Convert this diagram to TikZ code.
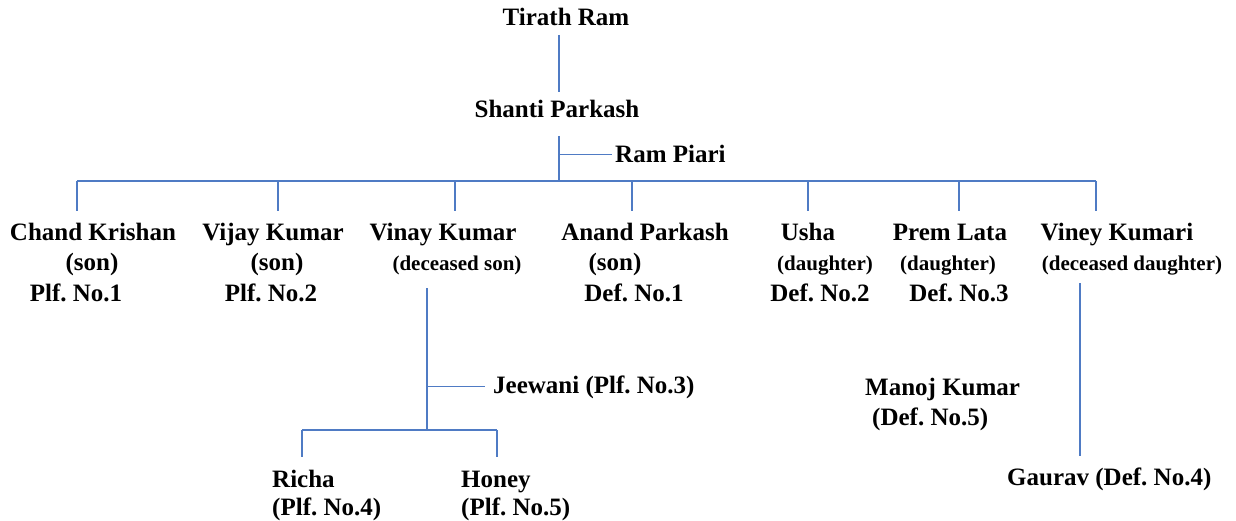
\documentclass[tikz,border=0pt]{standalone}
\usepackage{fontspec}
\setmainfont{Liberation Serif}[BoldFont={Liberation Serif Bold}]
\frenchspacing
\definecolor{linkblue}{HTML}{4F7BC4}
\tikzset{
  person/.style={font=\bfseries\fontsize{25}{30}\selectfont, inner sep=0pt, anchor=base},
  remark/.style={font=\bfseries\fontsize{21}{25}\selectfont, inner sep=0pt, anchor=base},
  link/.style={draw=linkblue, line width=1.2pt},
}
\begin{document}
\begin{tikzpicture}[x=1pt, y=-1pt]
		\useasboundingbox (0,0) rectangle (1236,521);
		% ancestors
		\node[person] (tirath) at (566,26) {Tirath Ram};
		\node[person] (shanti) at (557,118) {Shanti Parkash};
		\node[person, anchor=base west] (rampiari) at (615,163) {Ram Piari};
		% children of Shanti Parkash
		\foreach \id/\x/\who in {chand/93/Chand Krishan, vijay/273/Vijay Kumar, vinay/443/Vinay Kumar, anand/645/Anand Parkash, usha/808/Usha, prem/950/Prem Lata, viney/1117/Viney Kumari}
		{
			\node[person] (\id) at (\x,241) {\who};
		}
		\node[person] (chands) at (92,270) {(son)};
		\node[person] (chandn) at (76,301) {Plf. No.1};
		\node[person] (vijays) at (277,270) {(son)};
		\node[person] (vijayn) at (271,301) {Plf. No.2};
		\node[remark] (vinays) at (457,270) {(deceased son)};
		\node[person] (anands) at (615,270) {(son)};
		\node[person] (anandn) at (634,301) {Def. No.1};
		\node[remark] (ushas) at (825,270) {(daughter)};
		\node[person] (ushan) at (820,301) {Def. No.2};
		\node[remark] (prems) at (948,270) {(daughter)};
		\node[person] (premn) at (959,301) {Def. No.3};
		\node[remark] (vineys) at (1132,270) {(deceased daughter)};
		% grandchildren
		\node[person, anchor=base west] (jeewani) at (493,393) {Jeewani (Plf. No.3)};
		\node[person, anchor=base west] (richa) at (272,487) {Richa};
		\node[person, anchor=base west] (richan) at (272,515) {(Plf. No.4)};
		\node[person, anchor=base west] (honey) at (461,487) {Honey};
		\node[person, anchor=base west] (honeyn) at (461,515) {(Plf. No.5)};
		\node[person, anchor=base west] (manoj) at (865,395) {Manoj Kumar};
		\node[person, anchor=base west] (manojn) at (872,425) {(Def. No.5)};
		\node[person, anchor=base west] (gaurav) at (1007,485) {Gaurav (Def. No.4)};
		% junctions
		\coordinate (sp1) at (559,35);
		\coordinate (sp2) at (559,92);
		\coordinate (sp3) at (559,136);
		\coordinate (bar) at (559,181);
		\coordinate (barl) at (77,181);
		\coordinate (barr) at (1096,181);
		\coordinate (vk1) at (427,288);
		\coordinate (vk2) at (427,430);
		\coordinate (kidl) at (302,430);
		\coordinate (kidr) at (497,430);
		\coordinate (vy1) at (1080,283);
		\coordinate (vy2) at (1080,456);
		% lines
		\draw[link] (sp1)--(sp2);
		\draw[link] (sp3)--(bar);
		\draw[link] (sp3 |- rampiari.west)--([xshift=-3pt]rampiari.west);
		\draw[link, line width=1.5pt] (barl)--(barr);
		\foreach \x in {77, 278, 455, 632, 808, 959, 1096}
		{
			\draw[link] (bar -| \x,0)--(\x,211);
		}
		\draw[link] (vk1)--(vk2);
		\draw[link] (vk1 |- jeewani.west)--([xshift=-8pt]jeewani.west);
		\draw[link] (kidl)--(kidr);
		\draw[link] (kidl)--++(0,27);
		\draw[link] (kidr)--++(0,27);
		\draw[link] (vy1)--(vy2);
\end{tikzpicture}
\end{document}
